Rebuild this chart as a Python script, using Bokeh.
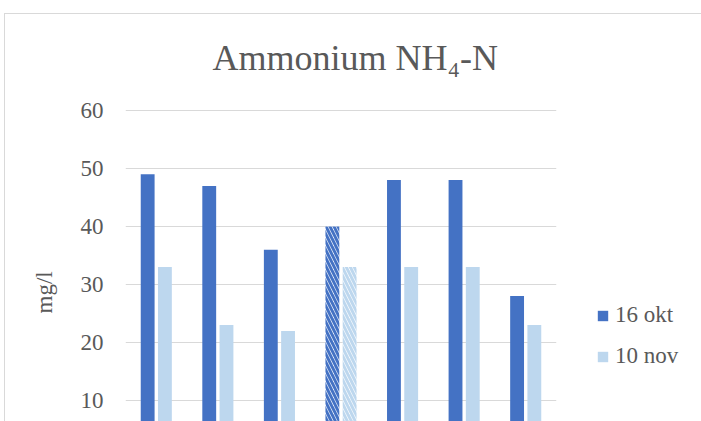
from bokeh.plotting import figure
from bokeh.models import Legend, LegendItem, FixedTicker, Range1d, ColumnDataSource, Title
from bokeh.embed import file_html
from bokeh.resources import INLINE

# ---- data ----
categories = ["1", "2", "3", "4", "5", "6", "7"]
okt16 = [49, 47, 36, 40, 48, 48, 28]
nov10 = [33, 23, 22, 33, 33, 33, 23]
hatched = [False, False, False, True, False, False, False]
y_ticks = [0, 10, 20, 30, 40, 50, 60]
series_labels = ["16 okt", "10 nov"]
title_text = "Ammonium NH\u2084-N"
y_label = "mg/l"

DARK = "#4472C4"
LIGHT = "#BDD7EE"
TXT = "#595959"
GRID = "#D9D9D9"
FONT = "Times New Roman"
FS = "23px"

xs = list(range(1, len(categories) + 1))
off = 0.14
bw = 0.225

PX = 5.8          # pixels per unit
FH = 323
YEND = 60 + 12 / PX
p = figure(
    frame_width=431, frame_height=FH,
    min_border_left=120, min_border_right=146, min_border_top=84, min_border_bottom=0,
    x_range=Range1d(0.5, len(categories) + 0.5),
    y_range=Range1d(YEND - FH / PX, YEND),
    x_axis_location=None,
    output_backend="svg", toolbar_location=None,
    margin=(13, 0, 0, 4),
)
p.styles = {"border-left": f"1px solid {GRID}", "border-top": f"1px solid {GRID}"}
p.outline_line_color = None
p.xgrid.visible = False
p.ygrid.grid_line_color = GRID
p.ygrid.grid_line_width = 1
p.yaxis.ticker = FixedTicker(ticks=y_ticks)
p.yaxis.axis_line_color = None
p.yaxis.major_tick_line_color = None
p.yaxis.minor_tick_line_color = None
p.yaxis.major_tick_out = 0
p.yaxis.major_tick_in = 0
p.yaxis.major_label_standoff = 22
p.yaxis.major_label_text_font = FONT
p.yaxis.major_label_text_font_size = FS
p.yaxis.major_label_text_color = TXT

plain = [i for i, h in enumerate(hatched) if not h]
hat = [i for i, h in enumerate(hatched) if h]

src_plain = ColumnDataSource(dict(
    xd=[xs[i] - off for i in plain], xl=[xs[i] + off for i in plain],
    a=[okt16[i] for i in plain], b=[nov10[i] for i in plain]))
src_hat = ColumnDataSource(dict(
    xd=[xs[i] - off for i in hat], xl=[xs[i] + off for i in hat],
    a=[okt16[i] for i in hat], b=[nov10[i] for i in hat]))

r1 = p.vbar(x="xd", top="a", bottom=0, width=bw, source=src_plain, fill_color=DARK, line_color=None)
r2 = p.vbar(x="xl", top="b", bottom=0, width=bw, source=src_plain, fill_color=LIGHT, line_color=None)
p.vbar(x="xd", top="a", bottom=0, width=bw, source=src_hat, fill_color="white", line_color=None,
       hatch_pattern="left_diagonal_line", hatch_color=DARK, hatch_weight=3, hatch_scale=8)
p.vbar(x="xl", top="b", bottom=0, width=bw, source=src_hat, fill_color="white", line_color=None,
       hatch_pattern="left_diagonal_line", hatch_color=LIGHT, hatch_weight=3, hatch_scale=8)

legend = Legend(
    items=[LegendItem(label=series_labels[0], renderers=[r1]),
           LegendItem(label=series_labels[1], renderers=[r2])],
    location=(40, 52),
    glyph_width=13, glyph_height=13, label_standoff=6, spacing=15,
    padding=0, margin=0, border_line_color=None, background_fill_alpha=0,
    label_text_font=FONT, label_text_font_size=FS, label_text_color=TXT,
)
p.add_layout(legend, "right")

p.title.text = title_text
p.title.text_font = FONT
p.title.text_font_size = "36px"
p.title.text_font_style = "normal"
p.title.text_color = TXT
p.title.align = "left"
p.title.offset = 87
p.title.standoff = 42

ylab = Title(text=y_label, align="left", offset=108, standoff=42,
             text_font=FONT, text_font_size=FS, text_font_style="normal", text_color=TXT)
p.add_layout(ylab, "left")

open("out.html", "w").write(file_html(p, INLINE))
